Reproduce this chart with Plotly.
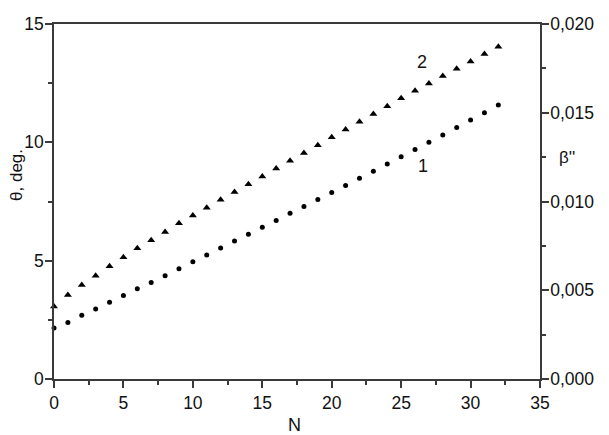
import plotly.graph_objects as go

N = list(range(33))
theta_1 = [2.15, 2.39, 2.69, 2.96, 3.24, 3.53, 3.81, 4.08, 4.36, 4.66, 4.95, 5.24,
           5.53, 5.83, 6.12, 6.41, 6.70, 7.00, 7.29, 7.58, 7.88, 8.18, 8.48, 8.78,
           9.08, 9.39, 9.70, 10.00, 10.31, 10.63, 10.94, 11.25, 11.58]
theta_2 = [3.06, 3.55, 3.97, 4.36, 4.76, 5.14, 5.52, 5.86, 6.21, 6.58, 6.91, 7.24,
           7.57, 7.90, 8.23, 8.56, 8.89, 9.22, 9.55, 9.88, 10.21, 10.54, 10.87, 11.20,
           11.52, 11.86, 12.18, 12.49, 12.80, 13.11, 13.42, 13.73, 14.04]

FONT = "Liberation Sans, Arial, sans-serif"
AX = "#3a3a3a"

fig = go.Figure()
fig.add_trace(go.Scatter(x=N, y=theta_1, mode="markers",
                         marker=dict(symbol="circle", size=5, color="black"),
                         cliponaxis=False, showlegend=False))
fig.add_trace(go.Scatter(x=N, y=theta_2, mode="markers",
                         marker=dict(symbol="triangle-up", size=7, color="black"),
                         cliponaxis=False, showlegend=False))
fig.add_trace(go.Scatter(x=[], y=[], yaxis="y2", showlegend=False))

axis_common = dict(showline=True, linecolor=AX, linewidth=1.5, ticks="outside",
                   tickcolor=AX, tickwidth=1.5, ticklen=7, showgrid=False,
                   zeroline=False, tickfont=dict(family=FONT, size=17.5, color="#111"))

fig.update_layout(
    width=609, height=435,
    margin=dict(l=54, r=69, t=24, b=56),
    paper_bgcolor="white", plot_bgcolor="white",
    separators=",.",
    font=dict(family=FONT, color="#111"),
    xaxis=dict(range=[0, 35], dtick=5, tick0=0, mirror=True,
               minor=dict(ticks="outside", dtick=2.5, ticklen=4, tickcolor=AX, tickwidth=1.5),
               **axis_common),
    yaxis=dict(range=[0, 15], dtick=5, tick0=0, ticklabelstandoff=-2,
               minor=dict(ticks="outside", dtick=2.5, ticklen=4, tickcolor=AX, tickwidth=1.5),
               **axis_common),
    yaxis2=dict(range=[0, 0.02], dtick=0.005, tick0=0, overlaying="y", side="right",
                tickformat=".3f", ticklabelstandoff=-2,
                minor=dict(ticks="outside", dtick=0.0025, ticklen=4, tickcolor=AX, tickwidth=1.5),
                **axis_common),
    annotations=[
        dict(text="N", xref="paper", yref="paper", x=0.495, y=-0.095, yanchor="top",
             showarrow=False, font=dict(family=FONT, size=18)),
        dict(text="θ, deg.", xref="paper", yref="paper", x=-0.076, y=0.575, textangle=-90,
             xanchor="center", yanchor="middle", showarrow=False, font=dict(family=FONT, size=17)),
        dict(text="β''", xref="paper", yref="paper", x=1.055, y=0.623, xanchor="center",
             showarrow=False, font=dict(family=FONT, size=17)),
        dict(text="2", x=26.5, y=13.4, showarrow=False, font=dict(family=FONT, size=18)),
        dict(text="1", x=26.6, y=9.0, showarrow=False, font=dict(family=FONT, size=18)),
    ],
)

fig.write_html("out.html", config={"displayModeBar": False},
               post_script="document.body.style.margin='0';")
